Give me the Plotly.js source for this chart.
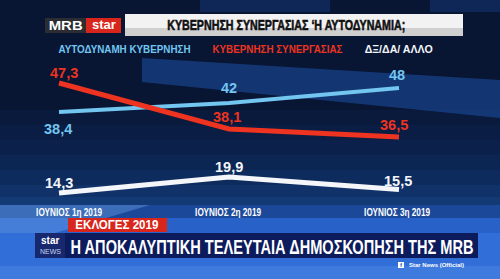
<!DOCTYPE html>
<html>
<head>
<meta charset="utf-8">
<script src="https://cdn.plot.ly/plotly-3.0.1.min.js"></script>
<style>html,body{margin:0;padding:0;background:#081634;}#chart{width:500px;height:279px;}</style>
</head>
<body>
<div id="chart"></div>
<script>
// ---- data ----
const periods = ['ΙΟΥΝΙΟΣ 1η 2019', 'ΙΟΥΝΙΟΣ 2η 2019', 'ΙΟΥΝΙΟΣ 3η 2019'];
const seriesNames = ['ΑΥΤΟΔΥΝΑΜΗ ΚΥΒΕΡΝΗΣΗ', 'ΚΥΒΕΡΝΗΣΗ ΣΥΝΕΡΓΑΣΙΑΣ', 'ΔΞ/ΔΑ/ ΑΛΛΟ'];
const selfRule = [38.4, 42, 48];
const coalition = [47.3, 38.1, 36.5];
const other = [14.3, 19.9, 15.5];
const chartTitle = 'ΚΥΒΕΡΝΗΣΗ ΣΥΝΕΡΓΑΣΙΑΣ \u2018Η ΑΥΤΟΔΥΝΑΜΙΑ;';
const tagText = 'ΕΚΛΟΓΕΣ 2019';
const headline = 'Η ΑΠΟΚΑΛΥΠΤΙΚΗ ΤΕΛΕΥΤΑΙΑ ΔΗΜΟΣΚΟΠΗΣΗ ΤΗΣ MRB';

const W = 500, H = 279;
const fmt = v => String(v).replace('.', ',');
const BOLD = '"Liberation Sans", Arial, sans-serif';
const px = X => X / W;
const py = Y => 1 - Y / H;

const colBlue = '#72c6f0', colRed = '#ee3320', colWhite = '#f4f6fa';

const series = [
  {vals: selfRule, axis: 'y', color: colBlue, width: 4, dy: [-17, 15, 13], dx: [-1, 0, -2]},
  {vals: coalition, axis: 'y2', color: colRed, width: 5, dy: [10, 12, 12], dx: [5, -2, -5]},
  {vals: other, axis: 'y3', color: colWhite, width: 5, dy: [10, 10, 9], dx: [0, 0, -1]}
];

const traces = series.map((s, k) => ({
  x: periods, y: s.vals, yaxis: s.axis, mode: 'lines', name: seriesNames[k],
  line: {color: s.color, width: s.width}, hoverinfo: 'skip'
}));

const ydom = [1 - 203 / H, 1];
const hiddenY = r => ({domain: ydom, range: r, visible: false, fixedrange: true});

// background gradient bands
const shapes = [];
const grad = [
  [110, '#091a3c'], [125, '#0a1d44'], [140, '#0b214c'], [155, '#0c2654'], [170, '#0e2b5e'],
  [185, '#113268'], [197, '#143a76']
];
for (let i = 0; i < grad.length; i++) {
  const y0 = grad[i][0], y1 = i + 1 < grad.length ? grad[i + 1][0] : 205;
  shapes.push({type: 'rect', xref: 'paper', yref: 'paper', x0: 0, x1: 1, y0: py(y1), y1: py(y0),
    fillcolor: grad[i][1], line: {width: 0}, layer: 'below'});
}
const path = (pts, fill) => ({type: 'path', xref: 'paper', yref: 'paper', layer: 'below', line: {width: 0},
  fillcolor: fill, path: 'M' + pts.map(p => px(p[0]) + ',' + py(p[1])).join(' L') + ' Z'});
const rect = (X0, Y0, X1, Y1, fill, layer) => ({type: 'rect', xref: 'paper', yref: 'paper',
  x0: px(X0), x1: px(X1), y0: py(Y1), y1: py(Y0), fillcolor: fill, line: {width: 0}, layer: layer || 'above'});

shapes.push(path([[142, 58], [500, 80], [500, 118], [142, 82]], 'rgba(30,80,165,0.55)'));
shapes.push(rect(200, 0, 330, 12, 'rgba(25,60,130,0.45)', 'below'));
shapes.push(rect(430, 0, 500, 12, 'rgba(25,60,130,0.45)', 'below'));
// lower blue bands
shapes.push(rect(0, 205, 500, 218, '#1b4898', 'below'));
shapes.push(rect(0, 218, 500, 233, '#2862c8', 'below'));
shapes.push(path([[0, 233], [55, 233], [150, 205], [0, 205]], 'rgba(120,180,245,0.35)'));
shapes.push(rect(0, 233, 500, 279, '#326ed8', 'below'));
shapes.push(rect(0, 266, 500, 279, '#3f7ade', 'below'));
// dark headline bar
shapes.push(rect(35, 233, 478, 258, '#0c1b5c'));
shapes.push(rect(35, 233, 65, 258, '#17286e'));
// red tag
shapes.push(rect(68, 218, 167, 232, '#d8261c'));
// title box
shapes.push(rect(125, 14, 463, 36, '#cfcfcf'));
shapes.push(rect(125, 14, 463, 28, '#f2f2f2'));
// logo
shapes.push(rect(45, 18, 86, 33, '#2b2d33'));
shapes.push(rect(86, 18, 121, 33, '#d9261c'));
// fb icon
shapes.push(rect(398, 262, 404, 268, '#ffffff'));

const ann = (X, Y, text, size, color, extra) => Object.assign({
  xref: 'paper', yref: 'paper', x: px(X), y: py(Y), text: text, showarrow: false,
  xanchor: 'center', yanchor: 'middle', font: {family: BOLD, size: size, color: color, weight: 'bold'}
}, extra || {});

const annotations = [
  ann(286, 25, chartTitle, 15, '#111111'),
  ann(65.5, 25.5, 'MRB', 12, '#ffffff'),
  ann(103.5, 25, 'star', 13, '#ffffff'),
  ann(124, 49, seriesNames[0], 10.5, colBlue),
  ann(277, 49, seriesNames[1], 10.5, colRed),
  ann(398, 49, seriesNames[2], 10.5, colWhite),
  ann(116.5, 225, tagText, 12.5, '#ffffff'),
  ann(50, 240.5, 'star', 10, '#ffffff'),
  ann(50, 251, 'NEWS', 7, '#c8d4f0', {font: {family: BOLD, size: 7, color: '#c8d4f0', weight: 'normal'}}),
  ann(271.5, 246, headline, 21, '#ffffff'),
  ann(401, 265.3, 'f', 6, '#2a5ab8'),
  ann(407, 265, 'Star News (Official)', 6, '#ffffff', {xanchor: 'left'})
];

// period labels under each point (category positions from the x axis)
const tickShift = [10, -1, -2];
periods.forEach((p, i) => {
  annotations.push({x: p, xref: 'x', y: py(212), yref: 'paper', text: p, showarrow: false,
    xanchor: 'center', yanchor: 'middle', xshift: tickShift[i],
    font: {family: BOLD, size: 10.5, color: '#ffffff', weight: 'bold'}});
});

// data labels, placed through the series' own axes
series.forEach(s => {
  s.vals.forEach((v, i) => {
    annotations.push({x: periods[i], y: v, xref: 'x', yref: s.axis, text: fmt(v), showarrow: false,
      xanchor: 'center', yanchor: 'middle', yshift: s.dy[i], xshift: s.dx[i],
      font: {family: BOLD, size: 14.5, color: s.color, weight: 'bold'}});
  });
});

const layout = {
  width: W, height: H,
  margin: {l: 0, r: 0, t: 0, b: 0},
  paper_bgcolor: '#081634', plot_bgcolor: 'rgba(0,0,0,0)',
  showlegend: false,
  xaxis: {type: 'category', range: [-59 / 170, -59 / 170 + 500 / 170], showgrid: false, zeroline: false,
    showline: false, ticks: '', showticklabels: false, fixedrange: true, anchor: 'y'},
  yaxis: hiddenY([2.0, 83.2]),
  yaxis2: Object.assign(hiddenY([23.3, 63.9]), {overlaying: 'y'}),
  yaxis3: Object.assign(hiddenY([10.8, 81.8]), {overlaying: 'y'}),
  shapes: shapes,
  annotations: annotations
};

// condensed look: fit text runs to the widths seen on the reference
const fitWidths = {};
fitWidths[chartTitle] = 238;
fitWidths[headline] = 403;
fitWidths[tagText] = 83;
fitWidths['MRB'] = 34;
periods.forEach(p => fitWidths[p] = 66);
fitWidths[seriesNames[0]] = 132;
fitWidths[seriesNames[1]] = 130;
fitWidths[seriesNames[2]] = 68;

Plotly.newPlot('chart', traces, layout, {staticPlot: true, displayModeBar: false}).then(gd => {
  gd.querySelectorAll('text').forEach(t => {
    const w = fitWidths[t.textContent];
    if (w) {
      t.setAttribute('textLength', w);
      t.setAttribute('lengthAdjust', 'spacingAndGlyphs');
    }
    if (t.textContent === chartTitle) {
      t.style.stroke = '#111111';
      t.style.strokeWidth = '0.6px';
    }
  });
});
</script>
</body>
</html>
